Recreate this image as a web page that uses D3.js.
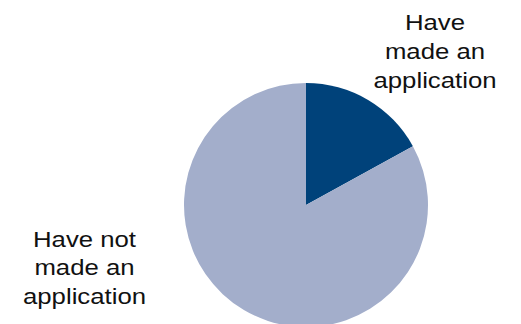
<!DOCTYPE html>
<html>
<head>
<meta charset="utf-8">
<script src="https://cdn.jsdelivr.net/npm/d3@7"></script>
<style>
  html, body { margin: 0; padding: 0; background: #fff; }
  svg { display: block; }
</style>
</head>
<body>
<svg id="chart" width="521" height="324"></svg>
<script>
// Share of respondents by application status
const categories = ["Have made an application", "Have not made an application"];
const values = [17, 83];
const colors = ["#00427A", "#A3AECB"];
const labelLines = [["Have", "made an", "application"], ["Have not", "made an", "application"]];

const width = 521, height = 324;
const cx = 306, cy = 205, radius = 122;

const svg = d3.select("#chart");

const pie = d3.pie().sort(null).value(d => d.value);
const arc = d3.arc().innerRadius(0).outerRadius(radius);

const data = categories.map((c, i) => ({ name: c, value: values[i], color: colors[i], lines: labelLines[i] }));

const g = svg.append("g").attr("transform", `translate(${cx},${cy})`);
g.selectAll("path")
  .data(pie(data))
  .join("path")
  .attr("d", arc)
  .attr("fill", d => d.data.color);

// Category labels placed beside the pie
const labelPos = [
  { x: 435, y: 30 },
  { x: 84.5, y: 246.5 }
];
const lineH = 29;
const sx = 1.12;

data.forEach((d, i) => {
  const t = svg.append("text")
    .attr("transform", `translate(${labelPos[i].x},${labelPos[i].y}) scale(${sx},1)`)
    .attr("text-anchor", "middle")
    .attr("font-family", "Liberation Sans, Arial, sans-serif")
    .attr("font-size", 23)
    .attr("fill", "#111");
  d.lines.forEach((line, j) => {
    t.append("tspan").attr("x", 0).attr("y", j * lineH).text(line);
  });
});
</script>
</body>
</html>
